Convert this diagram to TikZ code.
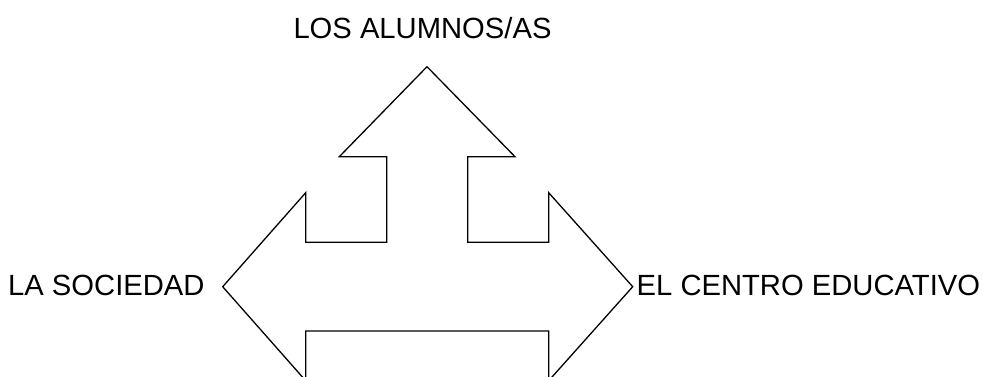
\documentclass[tikz,border=0pt]{standalone}
\usepackage{fontspec}
\setmainfont{Liberation Sans}
\tikzset{
  etiqueta/.style={font=\fontsize{29.2}{34}\selectfont, inner sep=0pt},
  contorno/.style={line width=1.3pt, line join=miter}
}
\begin{document}
\begin{tikzpicture}[x=1pt,y=-1pt]
\useasboundingbox (0,0) rectangle (987,376);

\begin{scope}
  \clip (0,0) rectangle (987,376);
  % flecha de tres puntas
  \draw[contorno] (427,66.7) -- (515,156.7) -- (467.7,156.7) -- (467.7,242.3)
    -- (548.7,242.3) -- (548.7,192.7) -- (632.7,286.7) -- (548.7,380.7)
    -- (548.7,331) -- (305.7,331) -- (305.7,380.7) -- (222.7,286.7)
    -- (305.7,192.7) -- (305.7,242.3) -- (386.7,242.3) -- (386.7,156.7)
    -- (339.3,156.7) -- cycle;
\end{scope}

\node[etiqueta, anchor=base] (alumnos) at (422.5,38.3) {LOS ALUMNOS/AS};
\node[etiqueta, anchor=base west] (sociedad) at (8,295.7) {LA SOCIEDAD};
\node[etiqueta, anchor=base west] (centro) at (636.5,295) {EL CENTRO EDUCATIVO};
\end{tikzpicture}
\end{document}
